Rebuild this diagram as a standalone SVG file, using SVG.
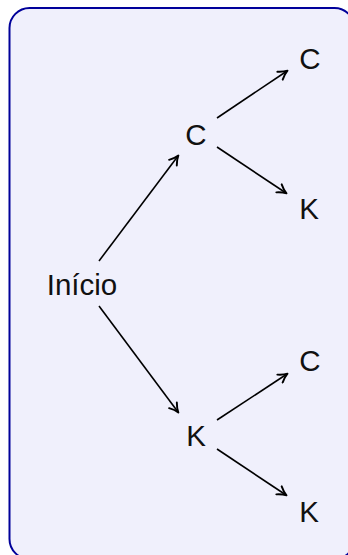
<svg xmlns="http://www.w3.org/2000/svg" width="348" height="555" viewBox="0 0 348 555">
<defs>
<style>
.lbl{font-family:"Liberation Sans","DejaVu Sans",sans-serif;font-size:29.5px;fill:#111;text-anchor:middle}
.edge{stroke:#000;stroke-width:1.6;fill:none;marker-end:url(#ah)}
</style>
<marker id="ah" markerWidth="12" markerHeight="12" refX="8" refY="5" orient="auto" markerUnits="userSpaceOnUse" viewBox="0 0 10 10">
<path d="M1,1 Q5,4 8.5,5 Q5,6 1,9" fill="none" stroke="#000" stroke-width="1.6" stroke-linecap="round" stroke-linejoin="round"/>
</marker>
</defs>
<rect x="9.5" y="8" width="345" height="551" rx="20" ry="20" fill="#f0f0fc" stroke="#00009a" stroke-width="2"/>
<g id="connectors">
<line class="edge" x1="99" y1="261" x2="178" y2="156"/>
<line class="edge" x1="99" y1="306" x2="178" y2="412"/>
<line class="edge" x1="217" y1="118" x2="287" y2="71"/>
<line class="edge" x1="217" y1="147" x2="286" y2="193"/>
<line class="edge" x1="217" y1="420" x2="287" y2="374"/>
<line class="edge" x1="217" y1="449" x2="286" y2="495"/>
</g>
<g id="inicio"><text class="lbl" x="82" y="294.5">Início</text></g>
<g id="c1"><text class="lbl" x="196" y="144.5">C</text></g>
<g id="k1"><text class="lbl" x="196" y="445.5">K</text></g>
<g id="cc"><text class="lbl" x="310" y="68.5">C</text></g>
<g id="ck"><text class="lbl" x="309" y="218.5">K</text></g>
<g id="kc"><text class="lbl" x="310" y="370.5">C</text></g>
<g id="kk"><text class="lbl" x="309" y="521.5">K</text></g>
</svg>
